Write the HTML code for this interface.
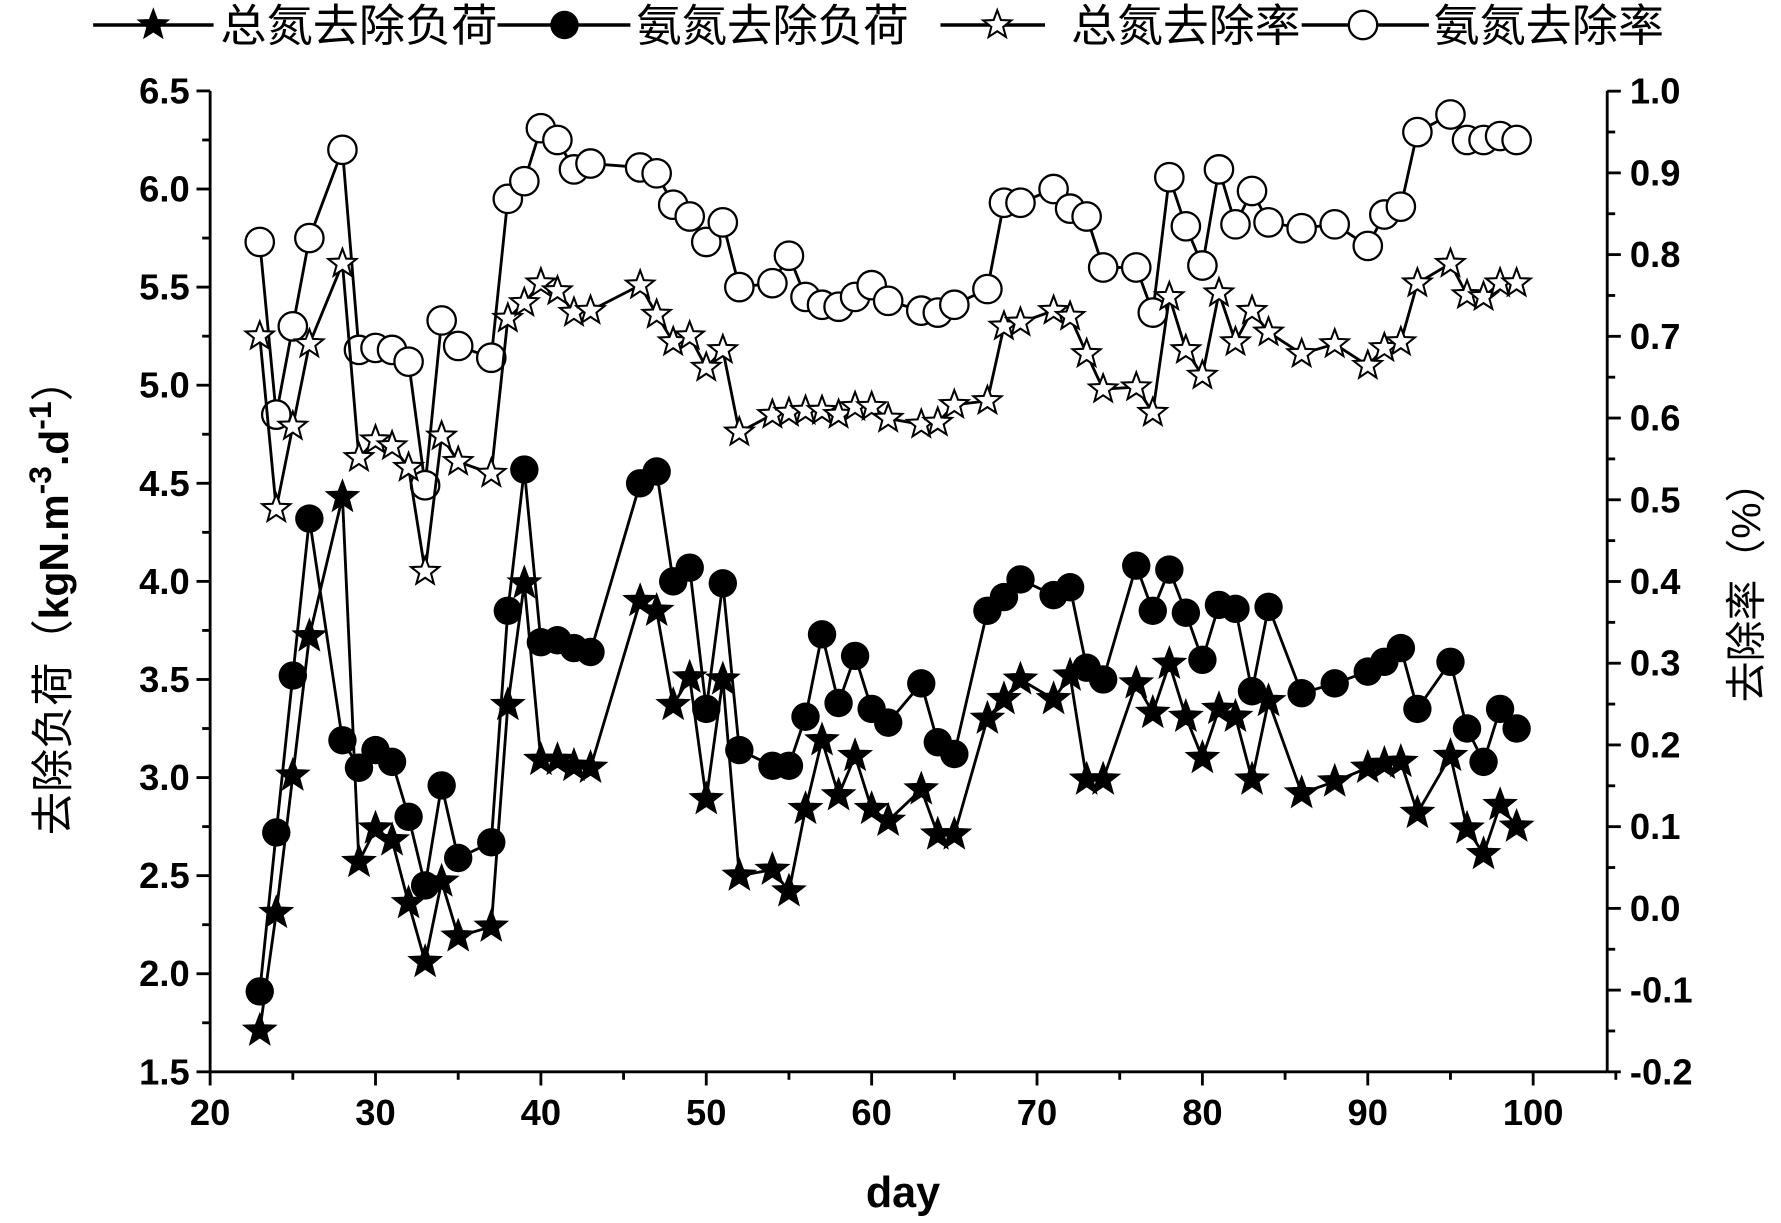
<!DOCTYPE html>
<html><head><meta charset="utf-8"><style>
html,body{margin:0;padding:0;background:#fff;}
svg{display:block;}
text{font-family:"Liberation Sans","Noto Sans CJK SC",sans-serif;}
</style></head><body>
<svg id="s" width="1781" height="1223" viewBox="0 0 1568 1076" preserveAspectRatio="none" xmlns="http://www.w3.org/2000/svg"></svg>
<script>
const days=[23,24,25,26,28,29,30,31,32,33,34,35,37,38,39,40,41,42,43,46,47,48,49,50,51,52,54,55,56,57,58,59,60,61,63,64,65,67,68,69,71,72,73,74,76,77,78,79,80,81,82,83,84,86,88,90,91,92,93,95,96,97,98,99];
const fs=[1.71,2.31,3.01,3.72,4.43,2.57,2.74,2.68,2.36,2.06,2.47,2.19,2.24,3.37,3.99,3.09,3.09,3.06,3.05,3.90,3.85,3.37,3.51,2.89,3.50,2.50,2.53,2.42,2.84,3.19,2.91,3.11,2.84,2.78,2.94,2.71,2.71,3.30,3.40,3.50,3.40,3.52,2.99,2.99,3.48,3.33,3.58,3.31,3.10,3.35,3.31,2.99,3.39,2.92,2.98,3.05,3.07,3.08,2.82,3.11,2.74,2.61,2.86,2.75];
const fc=[1.91,2.72,3.52,4.32,3.19,3.05,3.14,3.08,2.80,2.45,2.96,2.59,2.67,3.85,4.57,3.69,3.70,3.66,3.64,4.50,4.56,4.00,4.07,3.35,3.99,3.14,3.06,3.06,3.31,3.73,3.38,3.62,3.35,3.28,3.48,3.18,3.12,3.85,3.92,4.01,3.93,3.97,3.56,3.50,4.08,3.85,4.06,3.84,3.60,3.88,3.86,3.44,3.87,3.43,3.48,3.54,3.59,3.66,3.35,3.59,3.25,3.08,3.35,3.25];
const os=[5.25,4.37,4.79,5.21,5.62,4.63,4.72,4.69,4.58,4.05,4.74,4.61,4.55,5.34,5.42,5.52,5.48,5.37,5.38,5.51,5.36,5.22,5.25,5.09,5.18,4.76,4.85,4.86,4.87,4.87,4.85,4.89,4.89,4.83,4.80,4.81,4.90,4.92,5.30,5.32,5.38,5.35,5.16,4.98,4.99,4.86,5.45,5.18,5.05,5.47,5.22,5.38,5.27,5.16,5.21,5.10,5.19,5.22,5.52,5.62,5.46,5.45,5.52,5.52];
const oc=[5.73,4.85,5.30,5.75,6.20,5.18,5.19,5.18,5.12,4.49,5.33,5.20,5.14,5.95,6.04,6.31,6.25,6.10,6.13,6.11,6.08,5.92,5.86,5.73,5.83,5.50,5.52,5.66,5.45,5.41,5.40,5.45,5.51,5.43,5.38,5.37,5.41,5.49,5.93,5.93,6.00,5.90,5.86,5.60,5.60,5.37,6.06,5.81,5.61,6.10,5.82,5.99,5.83,5.80,5.82,5.71,5.87,5.91,6.29,6.38,6.25,6.25,6.27,6.25];
const X=d=>185+(d-20)*14.56, Y=v=>80+(6.5-v)*172.6;
let h='';
const L=185,R=1415,T=80,B=943;
h+=`<line x1="${L}" y1="${T}" x2="${L}" y2="${B}" stroke="#000" stroke-width="2.5"/>`;
h+=`<line x1="${R}" y1="${T}" x2="${R}" y2="${B}" stroke="#000" stroke-width="2.5"/>`;
h+=`<line x1="${L}" y1="${B}" x2="${R}" y2="${B}" stroke="#000" stroke-width="2.5"/>`;
for(let d=20;d<=105;d+=5){const x=X(d);const maj=d%10==0;h+=`<line x1="${x}" y1="${B}" x2="${x}" y2="${B+(maj?12:7)}" stroke="#000" stroke-width="2.5"/>`;if(maj&&d<=100)h+=`<text x="${x}" y="${B+47}" font-size="32" font-weight="bold" text-anchor="middle">${d}</text>`;}
for(let i=0;i<=20;i++){const v=1.5+i*0.25;const y=Y(v);const maj=i%2==0;h+=`<line x1="${L}" y1="${y}" x2="${L-(maj?12:7)}" y2="${y}" stroke="#000" stroke-width="2.5"/>`;if(maj)h+=`<text x="${L-18}" y="${y+11}" font-size="32" font-weight="bold" text-anchor="end">${v.toFixed(1)}</text>`;}
for(let i=0;i<=24;i++){const y=B-i*71.9/2;const maj=i%2==0;h+=`<line x1="${R}" y1="${y}" x2="${R+(maj?12:7)}" y2="${y}" stroke="#000" stroke-width="2.5"/>`;if(maj){const v=-0.2+i/20;h+=`<text x="${R+20}" y="${y+11}" font-size="32" font-weight="bold">${v.toFixed(1)}</text>`;}}
h+=`<text x="795" y="1062" font-size="38" font-weight="bold" text-anchor="middle">day</text>`;
h+=`<text transform="translate(60,525) rotate(-90)" font-size="38" text-anchor="middle">去除负荷（<tspan font-weight="bold" font-size="36">kgN.m<tspan dy="-15" font-size="28">-3</tspan><tspan dy="15">.d</tspan><tspan dy="-15" font-size="28">-1</tspan></tspan><tspan dy="15">）</tspan></text>`;
h+=`<text transform="translate(1550,512) rotate(-90)" font-size="36" text-anchor="middle">去除率（%）</text>`;
function star(x,y,r,fill){let p=[];for(let i=0;i<10;i++){const a=-Math.PI/2+i*Math.PI/5;const rr=i%2?r*0.42:r;p.push((x+rr*Math.cos(a)).toFixed(1)+','+(y+rr*Math.sin(a)).toFixed(1));}return `<polygon points="${p.join(' ')}" fill="${fill}" stroke="#000" stroke-width="1.8"/>`;}
function series(vals,mk){let pts=days.map((d,i)=>X(d).toFixed(1)+','+Y(vals[i]).toFixed(1)).join(' ');let s=`<polyline points="${pts}" fill="none" stroke="#000" stroke-width="2.5"/>`;days.forEach((d,i)=>s+=mk(X(d),Y(vals[i])));return s;}
h+=series(oc,(x,y)=>`<circle cx="${x}" cy="${y}" r="12.5" fill="#fff" stroke="#000" stroke-width="2"/>`);
h+=series(os,(x,y)=>star(x,y,13,'#fff'));
h+=series(fc,(x,y)=>`<circle cx="${x}" cy="${y}" r="12.5" fill="#000"/>`);
h+=series(fs,(x,y)=>star(x,y,14,'#000'));
h+=`<line x1="82" y1="22" x2="188" y2="22" stroke="#000" stroke-width="3"/>`+star(135,22,13,'#000');
h+=`<text x="194" y="36" font-size="39" textLength="244" lengthAdjust="spacingAndGlyphs">总氮去除负荷</text>`;
h+=`<line x1="438" y1="22" x2="555" y2="22" stroke="#000" stroke-width="3"/><circle cx="497" cy="22" r="12.5" fill="#000"/>`;
h+=`<text x="560" y="36" font-size="39" textLength="240" lengthAdjust="spacingAndGlyphs">氨氮去除负荷</text>`;
h+=`<line x1="828" y1="22" x2="920" y2="22" stroke="#000" stroke-width="3"/>`+star(878,22,13,'#fff');
h+=`<text x="943" y="36" font-size="39" textLength="202" lengthAdjust="spacingAndGlyphs">总氮去除率</text>`;
h+=`<line x1="1146" y1="22" x2="1258" y2="22" stroke="#000" stroke-width="3"/><circle cx="1200" cy="22" r="12.5" fill="#fff" stroke="#000" stroke-width="2"/>`;
h+=`<text x="1262" y="36" font-size="39" textLength="203" lengthAdjust="spacingAndGlyphs">氨氮去除率</text>`;
document.getElementById('s').innerHTML=h;
</script>
</body></html>
